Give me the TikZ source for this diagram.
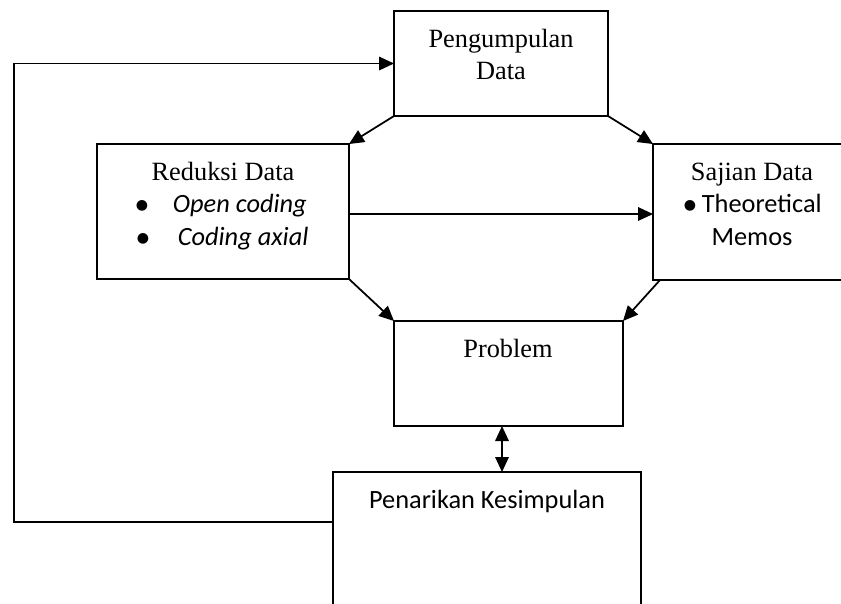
\documentclass[tikz,border=0pt]{standalone}
\usepackage{fontspec}
\setmainfont{Liberation Serif}
\newfontfamily\calibri{Carlito}
\newfontfamily\dejavu{DejaVu Sans}
\usetikzlibrary{calc}
\usetikzlibrary{arrows.meta}
\tikzset{>={Triangle[length=0.3cm,width=0.27cm]}}
\tikzset{
  box/.style={draw,line width=1pt,inner sep=0pt,outer sep=0pt},
  serif/.style={font=\fontsize{15}{19}\selectfont,inner sep=0pt,anchor=base},
  sans/.style={font=\calibri\fontsize{15}{19}\selectfont,inner sep=0pt,anchor=base},
}
\newcommand\bigdot{{\dejavu\fontsize{8}{8}\selectfont\raisebox{1.2pt}{●}}}

\begin{document}
\begin{tikzpicture}[x=0.02cm,y=-0.02cm,line width=1pt]
            \clip (0,0) rectangle (841,603);
            \fill[white] (0,0) rectangle (841,603);
            % boxes
            \node[box,minimum width=4.28cm,minimum height=2.1cm] (kumpul) at (501,63.5) {};
            \node[box,minimum width=5.04cm,minimum height=2.7cm] (reduksi) at (223,211.5) {};
            \node[box,minimum width=5.06cm,minimum height=2.72cm] (sajian) at (779.5,212) {};
            \node[box,minimum width=4.58cm,minimum height=2.1cm] (problem) at (508.5,373.5) {};
            \node[box,minimum width=6.16cm,minimum height=3.36cm] (tarik) at (487,556) {};
            % texts
            \node[serif] (kumpulA) at (501,47) {Pengumpulan};
            \node[serif] (kumpulB) at (501,79) {Data};
            \node[serif] (reduksiA) at (223,180) {Reduksi Data};
            \node[serif] (dotA) at (142,212) {\bigdot};
            \node[sans,anchor=base west] (open) at (172,212) {\itshape Open coding};
            \node[serif] (dotB) at (143,245) {\bigdot};
            \node[sans,anchor=base west] (axial) at (177,245) {\itshape Coding axial};
            \node[serif] (sajianA) at (752,180) {Sajian Data};
            \node[serif] (dotC) at (690,212) {\bigdot};
            \node[sans,anchor=base west] (memoA) at (701,212) {Theoretical};
            \node[sans] (memoB) at (752,245) {Memos};
            \node[serif] (problemA) at (508,357) {Problem};
            \node[sans] (tarikA) at (487,508) {Penarikan Kesimpulan};
            % connectors
            \coordinate (fb) at (14,522);
            \coordinate (arrx) at (502,0);
            \draw[->] (kumpul.south west) -- (reduksi.north east);
            \draw[->] (kumpul.south east) -- (sajian.north west);
            \draw[->] (reduksi.south east) -- (problem.north west);
            \draw[->] ($(sajian.south west)+(7,0)$) -- (problem.north east);
            \draw[->] ($(reduksi.east)+(0,2.5)$) -- ($(reduksi.east -| sajian.west)+(0,2.5)$);
            \draw[<->] (arrx |- problem.south) -- (arrx |- tarik.north);
            \draw[->] (fb -| tarik.west) -- (fb) |- (kumpul.west);
        \end{tikzpicture}
\end{document}
